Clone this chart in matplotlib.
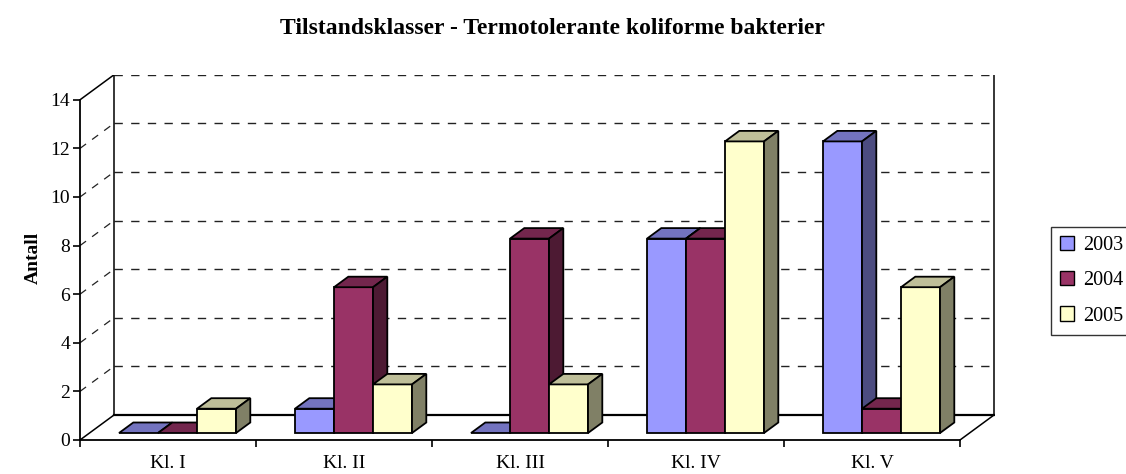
import matplotlib
matplotlib.use('Agg')
import matplotlib.pyplot as plt
from matplotlib.patches import Polygon, Patch

plt.rcParams['font.family'] = ['Liberation Serif', 'DejaVu Serif']

categories = ['Kl. I', 'Kl. II', 'Kl. III', 'Kl. IV', 'Kl. V']
years = ['2003', '2004', '2005']
v2003 = [0, 1, 0, 8, 12]
v2004 = [0, 6, 8, 8, 1]
v2005 = [1, 2, 2, 12, 6]
yticks = [0, 2, 4, 6, 8, 10, 12, 14]

front_cols = ['#9999ff', '#993366', '#ffffcc']
top_cols = ['#7373bf', '#73264d', '#bfbf99']
side_cols = ['#4c4c80', '#4d1a33', '#808066']

W, H = 1126, 474
fig = plt.figure(figsize=(W / 100, H / 100), dpi=100)
# axes spans front-left corner (80,440) to back-right corner (995,75) in pixels
ax = fig.add_axes([80 / W, (H - 440) / H, 915 / W, 365 / H])
ncat = len(categories)
ymax = 14
px_x = 176.0
px_y = 24.3
ax.set_xlim(0, 915 / px_x)
ax.set_ylim(0, 365 / px_y)

DX = 34 / px_x   # full depth of the 3d box
DY = 25 / px_y

# walls / floor
ax.plot([0, DX], [ymax, ymax + DY], color='k', lw=1.1, zorder=2)
ax.plot([0, DX], [0, DY], color='k', lw=1.1, zorder=2)
ax.plot([DX, DX], [DY, ymax + DY], color='k', lw=1.1, zorder=2)
ax.plot([ncat + DX, ncat + DX], [DY, ymax + DY], color='k', lw=1.1, zorder=2)
ax.plot([DX, ncat + DX], [DY, DY], color='k', lw=1.6, zorder=2)
ax.plot([ncat, ncat + DX], [0, DY], color='k', lw=1.1, zorder=2)
for t in yticks[1:]:
    ax.plot([DX, ncat + DX], [t + DY, t + DY], color='#222222', lw=1.0,
            ls=(0, (6, 6)), zorder=1)
    if t < ymax:
        ax.plot([0, DX], [t, t + DY], color='#222222', lw=0.9,
                ls=(0, (6, 6)), zorder=1)

# bars
bw = 39 / px_x
f0, f1 = 0.28, 0.70
ox, oy = f0 * DX, f0 * DY
ddx, ddy = (f1 - f0) * DX, (f1 - f0) * DY
series = [v2003, v2004, v2005]
z = 3
for i in range(ncat):
    cx = i + 0.5 + ox
    for j, vals in enumerate(series):
        v = vals[i]
        x0 = cx + (j - 1.5) * bw
        if v > 0:
            ax.bar(x0, v, width=bw, bottom=oy, align='edge', color=front_cols[j],
                   edgecolor='k', lw=1.3, zorder=z)
        top = v + oy
        ax.add_patch(Polygon([(x0, top), (x0 + bw, top), (x0 + bw + ddx, top + ddy),
                              (x0 + ddx, top + ddy)], closed=True, fc=top_cols[j],
                             ec='k', lw=1.3, zorder=z + 0.1))
        if v > 0:
            ax.add_patch(Polygon([(x0 + bw, oy), (x0 + bw + ddx, oy + ddy),
                                  (x0 + bw + ddx, top + ddy), (x0 + bw, top)],
                                 closed=True, fc=side_cols[j], ec='k', lw=1.3,
                                 zorder=z + 0.2))
        z += 1

# axes
for s in ['top', 'right']:
    ax.spines[s].set_visible(False)
ax.spines['left'].set_bounds(0, ymax)
ax.spines['bottom'].set_bounds(0, ncat)
ax.spines['left'].set_linewidth(1.3)
ax.spines['bottom'].set_linewidth(1.3)
ax.set_yticks(yticks)
ax.set_yticklabels([str(t) for t in yticks], fontsize=14)
ax.set_xticks(range(ncat + 1))
ax.set_xticklabels([''] * (ncat + 1))
ax.set_xticks([i + 0.5 for i in range(ncat)], minor=True)
ax.set_xticklabels(categories, minor=True, fontsize=14)
ax.tick_params(axis='both', which='major', direction='out', length=5, width=1.2)
ax.tick_params(axis='x', which='minor', length=0, pad=11)
ax.tick_params(axis='y', pad=2)
ax.set_ylabel('Antall', fontsize=14, fontweight='bold', labelpad=6)

fig.text(0.491, 1 - 29 / H, 'Tilstandsklasser - Termotolerante koliforme bakterier',
         ha='center', va='center', fontsize=17, fontweight='bold')

handles = [Patch(fc=c, ec='k', lw=1.0) for c in front_cols]
leg = fig.legend(handles, years, loc='upper left', bbox_to_anchor=(1051 / W, 1 - 227 / H),
                 fontsize=14.5, frameon=True, fancybox=False, handlelength=0.7,
                 handleheight=0.7, handletextpad=0.45, labelspacing=0.8,
                 borderpad=0.45, borderaxespad=0)
leg.get_frame().set_edgecolor('k')
leg.get_frame().set_linewidth(1.0)

fig.savefig('out.png', dpi=100)
